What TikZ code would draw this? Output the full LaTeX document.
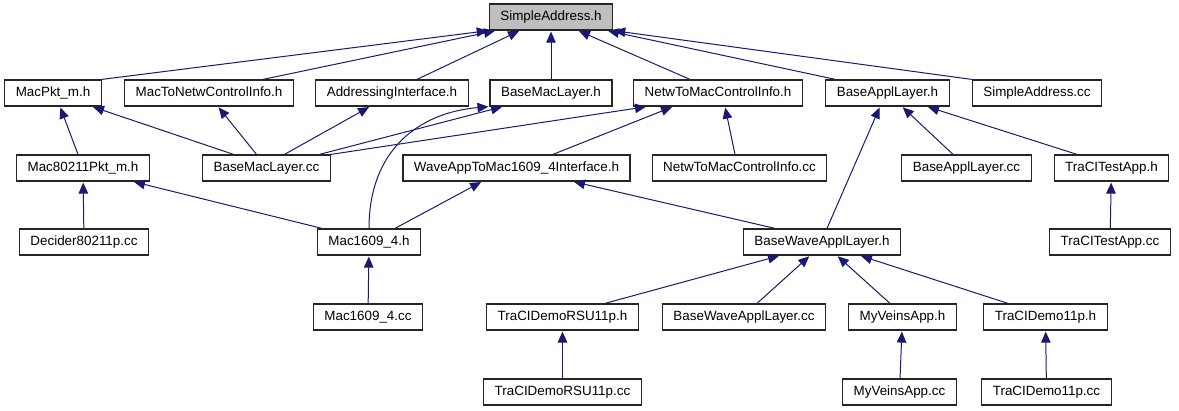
\documentclass[tikz,border=0pt]{standalone}
\usepackage{fontspec}
\setmainfont{Liberation Sans}
\usetikzlibrary{arrows.meta}
\definecolor{edgeblue}{RGB}{25,25,112}
\definecolor{rootgray}{RGB}{191,191,191}
\begin{document}
\begin{tikzpicture}[x=1pt,y=-1pt,
  file/.style={draw=black!85, line width=1.2pt, rectangle, minimum height=26pt, inner xsep=11pt, inner ysep=0pt,
    text height=9.6pt, text depth=2.9pt, font=\fontsize{13.4}{15}\selectfont},
  dep/.style={draw=edgeblue, line width=1pt, -{Triangle[length=11pt,width=9.5pt,fill=edgeblue]}, shorten >=1pt}]
\useasboundingbox (0,0) rectangle (1179,411);
\node[file, fill=rootgray] (sa) at (551,17) {SimpleAddress.h};
\node[file] (macpkt) at (53,93) {MacPkt\_m.h};
\node[file] (mtn) at (209,93) {MacToNetwControlInfo.h};
\node[file] (addr) at (392,93) {AddressingInterface.h};
\node[file] (bmlh) at (551,93) {BaseMacLayer.h};
\node[file] (ntm) at (718,93) {NetwToMacControlInfo.h};
\node[file] (bapplh) at (887.5,93) {BaseApplLayer.h};
\node[file] (sacc) at (1037,93) {SimpleAddress.cc};
\node[file] (m80211) at (83,168) {Mac80211Pkt\_m.h};
\node[file] (bmlcc) at (266.5,168) {BaseMacLayer.cc};
\node[file] (wave) at (516.5,168) {WaveAppToMac1609\_4Interface.h};
\node[file] (ntmcc) at (739.5,168) {NetwToMacControlInfo.cc};
\node[file] (bapplcc) at (966.5,168) {BaseApplLayer.cc};
\node[file] (ttah) at (1111.5,168) {TraCITestApp.h};
\node[file] (decider) at (84,242) {Decider80211p.cc};
\node[file] (m1609h) at (369,242) {Mac1609\_4.h};
\node[file] (bwalh) at (822,242) {BaseWaveApplLayer.h};
\node[file] (ttacc) at (1110,242) {TraCITestApp.cc};
\node[file] (m1609cc) at (368,317) {Mac1609\_4.cc};
\node[file] (rsuh) at (562.5,317) {TraCIDemoRSU11p.h};
\node[file] (bwalcc) at (744,317) {BaseWaveApplLayer.cc};
\node[file] (mvah) at (902.5,317) {MyVeinsApp.h};
\node[file] (demoh) at (1045.5,317) {TraCIDemo11p.h};
\node[file] (rsucc) at (562.5,392) {TraCIDemoRSU11p.cc};
\node[file] (mvacc) at (899.5,392) {MyVeinsApp.cc};
\node[file] (democc) at (1046.5,392) {TraCIDemo11p.cc};

\draw[dep] (macpkt.north east) -- (sa.south west);
\draw[dep] ([xshift=54pt]mtn.north) -- ([xshift=-55pt]sa.south);
\draw[dep] ([xshift=25pt]addr.north) -- ([xshift=-31pt]sa.south);
\draw[dep] (bmlh) -- (sa);
\draw[dep] ([xshift=-28pt]ntm.north) -- ([xshift=27pt]sa.south);
\draw[dep] ([xshift=-52pt]bapplh.north) -- ([xshift=56pt]sa.south);
\draw[dep] (sacc.north west) -- (sa.south east);

\draw[dep] ([xshift=-5pt]m80211.north) -- ([xshift=7pt]macpkt.south);
\draw[dep] ([xshift=-33pt]bmlcc.north) -- ([xshift=39pt]macpkt.south);
\draw[dep] ([xshift=-10pt]bmlcc.north) -- ([xshift=9pt]mtn.south);
\draw[dep] ([xshift=18pt]bmlcc.north) -- ([xshift=-22pt]addr.south);
\draw[dep] ([xshift=53pt]bmlcc.north) -- ([xshift=-48pt]bmlh.south);
\draw[dep] (bmlcc.north east) -- ([xshift=-71pt]ntm.south);
\draw[dep] (m1609h.north) .. controls +(0,-79) and +(-70,6) .. (bmlh.south west);
\draw[dep] ([xshift=36.5pt]wave.north) -- ([xshift=-45pt]ntm.south);
\draw[dep] ([xshift=-4.5pt]ntmcc.north) -- ([xshift=7pt]ntm.south);
\draw[dep] ([xshift=5pt]bwalh.north) -- ([xshift=-7.5pt]bapplh.south);
\draw[dep] ([xshift=-13.5pt]bapplcc.north) -- ([xshift=14.5pt]bapplh.south);
\draw[dep] ([xshift=-34.5pt]ttah.north) -- ([xshift=39.5pt]bapplh.south);

\draw[dep] (decider) -- (m80211);
\draw[dep] ([xshift=-47pt]m1609h.north) -- ([xshift=50pt]m80211.south);
\draw[dep] ([xshift=26pt]m1609h.north) -- ([xshift=-34.5pt]wave.south);
\draw[dep] ([xshift=-47pt]bwalh.north) -- ([xshift=56.5pt]wave.south);
\draw[dep] (ttacc) -- (ttah);

\draw[dep] (m1609cc) -- (m1609h);
\draw[dep] ([xshift=42.5pt]rsuh.north) -- ([xshift=-42pt]bwalh.south);
\draw[dep] ([xshift=13pt]bwalcc.north) -- ([xshift=-12pt]bwalh.south);
\draw[dep] ([xshift=-12.5pt]mvah.north) -- ([xshift=15pt]bwalh.south);
\draw[dep] ([xshift=-37.5pt]demoh.north) -- ([xshift=38pt]bwalh.south);

\draw[dep] (rsucc) -- (rsuh);
\draw[dep] (mvacc) -- (mvah);
\draw[dep] (democc) -- (demoh);
\end{tikzpicture}
\end{document}
